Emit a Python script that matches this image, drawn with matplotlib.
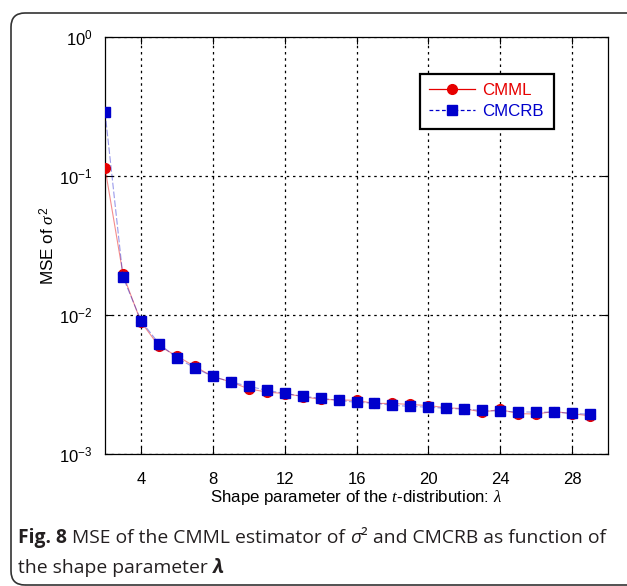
import numpy as np
import matplotlib
matplotlib.use('Agg')
import matplotlib.pyplot as plt
from matplotlib.lines import Line2D
from matplotlib.patches import FancyBboxPatch
from matplotlib.transforms import IdentityTransform
from matplotlib.ticker import LogLocator, NullLocator, FixedLocator

# shape parameter lambda of the t-distribution
lam = np.arange(2, 30)

# MSE of the CMML estimator of sigma^2
mse_cmml = [0.114, 0.0196, 0.00891, 0.00598, 0.00507, 0.00426, 0.00361,
            0.00330, 0.00294, 0.00279, 0.00272, 0.00259, 0.00247, 0.00245,
            0.00243, 0.00231, 0.00231, 0.00227, 0.00223, 0.00215, 0.00212,
            0.00200, 0.00209, 0.00195, 0.00194, 0.00202, 0.00195, 0.00188]

# CMCRB
cmcrb = [0.2886, 0.01877, 0.00910, 0.00622, 0.00491, 0.00416, 0.00361,
         0.00330, 0.00307, 0.00287, 0.00273, 0.00260, 0.00252, 0.00243,
         0.00235, 0.00232, 0.00224, 0.00220, 0.00217, 0.00213, 0.00210,
         0.00206, 0.00203, 0.00201, 0.00200, 0.00200, 0.00196, 0.00193]

xticks = [4, 8, 12, 16, 20, 24, 28]

red = '#e60000'
blue = '#0000cc'

plt.rcParams['font.family'] = ['Liberation Sans', 'DejaVu Sans']
plt.rcParams['mathtext.fontset'] = 'custom'
plt.rcParams['mathtext.rm'] = 'Liberation Sans'
plt.rcParams['mathtext.it'] = 'Liberation Serif:italic'

fig = plt.figure(figsize=(6.27, 5.86), dpi=100)
ax = fig.add_axes([0.1675, 0.2253, 0.8022, 0.7116])

# curves: thin lines, then markers on top
ax.plot(lam, mse_cmml, '-', color=red, lw=0.8, alpha=0.45, zorder=3)
ax.plot(lam, mse_cmml, 'o', color=red, ms=7, mec=red, zorder=4)
ax.plot(lam, cmcrb, color=blue, lw=0.8, alpha=0.4, dashes=(6, 2), zorder=5)
ax.plot(lam, cmcrb, 's', color=blue, ms=7, mec=blue, zorder=6)

ax.set_yscale('log')
ax.set_xlim(2, 30)
ax.set_ylim(1e-3, 1)
ax.xaxis.set_major_locator(FixedLocator(xticks))
ax.yaxis.set_major_locator(LogLocator(base=10, numticks=10))
ax.yaxis.set_minor_locator(NullLocator())
ax.grid(True, which='major', color='k', lw=0.9, ls=(0, (2, 3)))
ax.tick_params(direction='in', top=True, right=True, length=5, width=0.8,
               labelsize=12, color='k')
ax.tick_params(axis='x', pad=13)
ax.tick_params(axis='y', pad=9)
for sp in ax.spines.values():
    sp.set_linewidth(0.9)

ax.set_xlabel(r'Shape parameter of the $t$-distribution: $\lambda$',
              fontsize=12.2, labelpad=1)
ax.set_ylabel(r'MSE of $\sigma^2$', fontsize=12.3, labelpad=1)

handles = [Line2D([], [], color=red, lw=0.9, marker='o', ms=7),
           Line2D([], [], color=blue, lw=0.9, marker='s', ms=7, dashes=(3, 2))]
leg = ax.legend(handles, ['CMML', 'CMCRB'], loc='upper left',
                bbox_to_anchor=(0.626, 0.911), fontsize=12.2, fancybox=False,
                framealpha=1, edgecolor='k', handlelength=2.7,
                handletextpad=0.45, borderpad=0.55, labelspacing=0.35,
                borderaxespad=0)
leg.get_frame().set_linewidth(1.6)
for txt, c in zip(leg.get_texts(), [red, blue]):
    txt.set_color(c)

# rounded frame around figure and caption
frame = FancyBboxPatch((11, 1), 650, 572,
                       boxstyle='round,pad=0,rounding_size=14',
                       transform=IdentityTransform(), fill=False,
                       edgecolor='#333333', lw=1.2)
fig.patches.append(frame)

# caption written in runs so each piece gets its own weight/style
renderer = fig.canvas.get_renderer()
cap_size = 13.9


def text_width(s, **kw):
    t = fig.text(0, 0, s, size=cap_size, family='Open Sans', **kw)
    w = t.get_window_extent(renderer).width
    t.remove()
    return w


space = text_width('a a') - text_width('aa')


def caption_line(x_px, y_px, runs):
    for s, kw, gap in runs:
        t = fig.text(x_px / fig.bbox.width, 1 - y_px / fig.bbox.height, s,
                     size=cap_size, family='Open Sans', va='baseline',
                     color='#231f20', **kw)
        x_px += t.get_window_extent(renderer).width + (space if gap else 0)


caption_line(18, 543, [
    ('Fig. 8', dict(weight='bold'), True),
    ('MSE of the CMML estimator of', {}, True),
    ('σ', dict(style='italic'), False),
    ('²', {}, True),
    ('and CMCRB as function of', {}, False),
])
caption_line(18, 573, [
    ('the shape parameter', {}, True),
    ('λ', dict(weight='bold', style='italic'), False),
])

fig.savefig('out.png', dpi=100)
